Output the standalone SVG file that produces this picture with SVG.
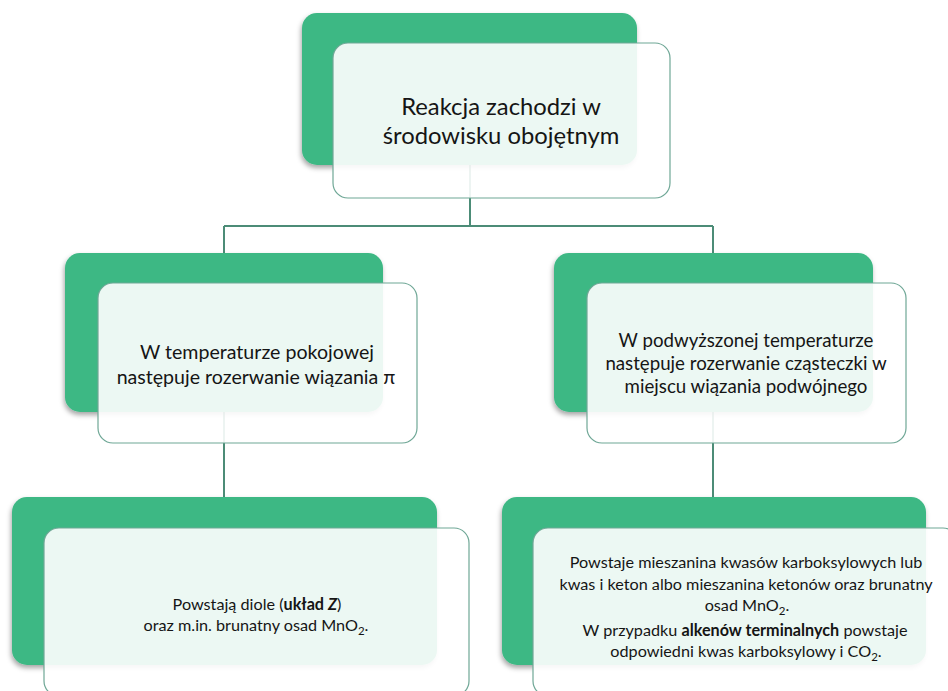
<svg xmlns="http://www.w3.org/2000/svg" width="948" height="691" viewBox="0 0 948 691">
  <defs>
    <filter id="shadow" x="-10%" y="-10%" width="120%" height="130%">
      <feDropShadow dx="-1" dy="3" stdDeviation="2.5" flood-color="#000" flood-opacity="0.35"/>
    </filter>
  </defs>
  <style>
    .back { fill: #3db884; filter: url(#shadow); }
    .card { fill: #ffffff; fill-opacity: 0.9; stroke: #6fa796; stroke-width: 1.2; }
    .conn { fill: none; stroke: #4c8c77; stroke-width: 2; }
    text { font-family: Lato, "Liberation Sans", sans-serif; fill: #151515; text-anchor: middle; }
    .t1 { font-size: 23.8px; }
    .t2 { font-size: 19.6px; }
    .t3 { font-size: 18.7px; }
    .t4 { font-size: 16.2px; }
    .b { font-weight: bold; }
    .bi { font-weight: bold; font-style: italic; }
  </style>
  <rect width="948" height="691" fill="#ffffff"/>

  <g id="connectors">
    <path class="conn" d="M470 165 V226 M224 226 H713 M224 226 V253 M713 226 V253"/>
    <path class="conn" d="M224 412 V497"/>
    <path class="conn" d="M713 412 V497"/>
  </g>

  <g id="node-top">
    <rect class="back" x="302" y="13" width="335" height="152" rx="15"/>
    <rect class="card" x="333" y="43" width="337" height="155" rx="15"/>
    <text class="t1" x="501" y="115">Reakcja zachodzi w</text>
    <text class="t1" x="501" y="144">środowisku obojętnym</text>
  </g>

  <g id="node-left">
    <rect class="back" x="65" y="253" width="318" height="159" rx="15"/>
    <rect class="card" x="98" y="283" width="319" height="160" rx="15"/>
    <text class="t2" x="257" y="359">W temperaturze pokojowej</text>
    <text class="t2" x="256" y="384">następuje rozerwanie wiązania π</text>
  </g>

  <g id="node-right">
    <rect class="back" x="554" y="253" width="319" height="159" rx="15"/>
    <rect class="card" x="587" y="283" width="319" height="160" rx="15"/>
    <text class="t3" x="746" y="347">W podwyższonej temperaturze</text>
    <text class="t3" x="746" y="370">następuje rozerwanie cząsteczki w</text>
    <text class="t3" x="746" y="393">miejscu wiązania podwójnego</text>
  </g>

  <g id="node-bottom-left">
    <rect class="back" x="12" y="497" width="425" height="168" rx="15"/>
    <rect class="card" x="44" y="528" width="425" height="168" rx="15"/>
    <text class="t4" x="257" y="610">Powstają diole (<tspan class="b">układ </tspan><tspan class="bi">Z</tspan>)</text>
    <text class="t4" x="256" y="631">oraz m.in. brunatny osad MnO<tspan dy="4" font-size="11.5">2</tspan><tspan dy="-4">.</tspan></text>
  </g>

  <g id="node-bottom-right">
    <rect class="back" x="502" y="497" width="424" height="168" rx="15"/>
    <rect class="card" x="533" y="528" width="425" height="168" rx="15"/>
    <text class="t4" x="746" y="568">Powstaje mieszanina kwasów karboksylowych lub</text>
    <text class="t4" x="746" y="590">kwas i keton albo mieszanina ketonów oraz brunatny</text>
    <text class="t4" x="747" y="611">osad MnO<tspan dy="4" font-size="11.5">2</tspan><tspan dy="-4">.</tspan></text>
    <text class="t4" x="745" y="636">W przypadku <tspan class="b">alkenów terminalnych</tspan> powstaje</text>
    <text class="t4" x="746" y="657">odpowiedni kwas karboksylowy i CO<tspan dy="4" font-size="11.5">2</tspan><tspan dy="-4">.</tspan></text>
  </g>
</svg>
